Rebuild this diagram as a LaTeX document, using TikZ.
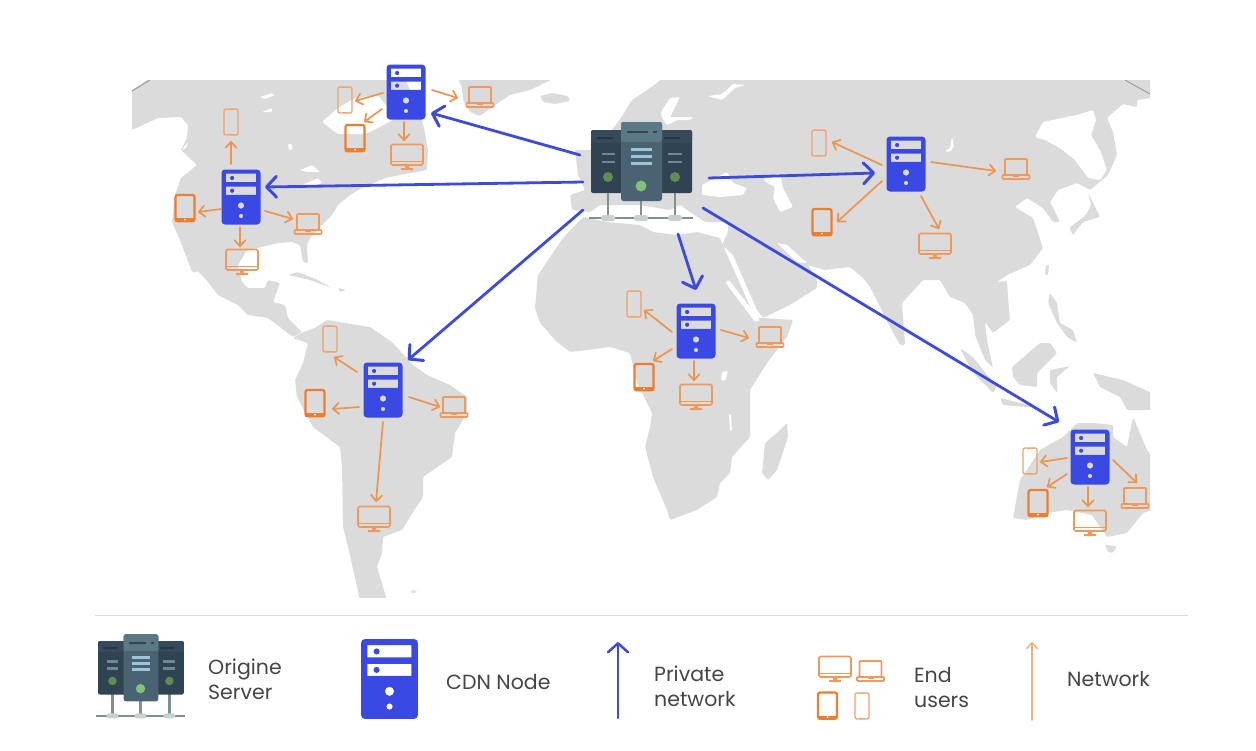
\documentclass[tikz,border=0pt]{standalone}
\usepackage{fontspec}
\setmainfont{Poppins}
\usetikzlibrary{arrows.meta}
\definecolor{land}{HTML}{DBDBDB}
\definecolor{cdnblue}{HTML}{3A49E3}
\definecolor{linkblue}{HTML}{3C4AE0}
\definecolor{netorange}{HTML}{EE9350}
\definecolor{netlight}{HTML}{F4AE7C}
\definecolor{devorange}{HTML}{EF9A5C}
\definecolor{tabletorange}{HTML}{EC7E2E}
\definecolor{phoneorange}{HTML}{F0A26C}
\definecolor{sidebox}{HTML}{2F4352}
\definecolor{sidehead}{HTML}{364A5B}
\definecolor{midbox}{HTML}{4A6373}
\definecolor{midhead}{HTML}{5B7885}
\definecolor{ledside}{HTML}{5F8C55}
\definecolor{ledmid}{HTML}{80C078}
\definecolor{barmid}{HTML}{9CC5DC}
\definecolor{barside}{HTML}{6D8895}
\definecolor{legcol}{HTML}{7F9090}
\definecolor{blobcol}{HTML}{C8D0D3}
\definecolor{textcol}{HTML}{454545}
\tikzset{
  anchorpt/.style={inner sep=0pt,minimum size=0pt},
  privlink/.style={linkblue,line width=2.8pt,line cap=round,-{Straight Barb[length=10pt,width=21pt,line width=3pt,round]}},
  netlink/.style={netorange,line width=1.7pt,line cap=round,-{Straight Barb[length=6pt,width=11pt,line width=1.7pt,round]}},
  legtext/.style={anchor=west,align=left,inner sep=0pt,text=textcol,font=\fontsize{20.5}{25}\selectfont},
  pics/cdn/.style={code={
    \fill[cdnblue,even odd rule,rounded corners=3.5pt]
      (-19.5,-27.5) rectangle (19.5,27.5)
      [sharp corners] (-15.2,-23.3) rectangle (15,-15)
      (-15.2,-10.5) rectangle (15,-2.2)
      (0,8.5) circle (3.2) (0,19) circle (2.2);
    \fill[cdnblue] (-8.9,-19) circle (2.1) (-8.9,-6.3) circle (2.1);
  }},
  pics/origin/.style={code={
    \draw[legcol,line width=2.4pt] (-33,20) -- (-33,48) (0,28) -- (0,48) (34,20) -- (34,48);
    \draw[legcol,line width=2.2pt] (-52,48) -- (52,48);
    \fill[blobcol,rounded corners=2.5pt] (-40,45) rectangle (-26,51) (-7,45) rectangle (7,51) (27,45) rectangle (41,51);
    \fill[sidebox,rounded corners=2pt] (-50,-40) rectangle (-15,23) (15,-40) rectangle (51,23);
    \fill[sidehead,rounded corners=2pt] (-50,-40) rectangle (-15,-27) (15,-40) rectangle (51,-27);
    \draw[barside,line width=2.6pt] (-39,-16) -- (-26,-16) (-39,-8) -- (-26,-8) (27,-16) -- (41,-16) (27,-8) -- (41,-8);
    \draw[sidebox!80!black,line width=1.6pt] (-44,-32) -- (-28,-32) (23,-32) -- (39,-32);
    \fill[ledside] (-33,7) circle (5) (34,7) circle (5);
    \fill[midbox,rounded corners=2.5pt] (-20,-48) rectangle (21,31);
    \fill[midhead,rounded corners=2.5pt] (-20,-48) rectangle (21,-28);
    \draw[midbox!70!black,line width=1.6pt] (-14,-38) -- (7,-38) (12,-38) -- (16,-38);
    \draw[barmid,line width=3pt] (-10,-21) -- (11,-21) (-10,-14) -- (11,-14) (-10,-7) -- (11,-7);
    \fill[ledmid] (0,16) circle (5.5);
  }},
  pics/phone/.style={code={
    \draw[phoneorange,line width=1.3pt,rounded corners=2pt] (-7,-13) rectangle (7,13);
    \draw[phoneorange,line width=1.1pt] (-3.5,-12.5) -- (3.5,-12.5) (-3,12.3) -- (3,12.3);
  }},
  pics/tablet/.style={code={
    \draw[tabletorange,line width=2.2pt,rounded corners=2pt] (-9.5,-13) rectangle (9.5,13.3);
    \fill[tabletorange] (-9.5,10) rectangle (9.5,13.3);
    \fill[white] (0,11.6) circle (1);
  }},
  pics/monitor/.style={code={
    \draw[devorange,line width=1.6pt,rounded corners=1.5pt] (-16,-12.5) rectangle (16,8);
    \draw[devorange,line width=1.2pt] (-16,4.5) -- (16,4.5);
    \fill[devorange] (-2,8) rectangle (2,11) (-6,11) rectangle (6,13);
  }},
  pics/laptop/.style={code={
    \draw[devorange,line width=1.8pt,rounded corners=1pt] (-11,-10) rectangle (11,6);
    \draw[devorange,line width=1.7pt,rounded corners=.8pt] (-13.5,6) rectangle (13.5,10);
    \fill[devorange] (-3,6) rectangle (3,8);
  }}
}
\newcommand\placedev[4]{\node[anchorpt] (#2) at (#3,#4) {}; \pic at (#2) {#1};}
\newcommand\netconn[5]{\draw[#1] ([shift={(#3)}]#2.center) -- ([shift={(#5)}]#4.center);}
\begin{document}
\begin{tikzpicture}[x=1pt,y=-1pt]
\useasboundingbox (0,0) rectangle (1256,750);
% ---------- map ----------
\begin{scope}
\clip (132,80) rectangle (1150,597);
\begin{scope}[rounded corners=1.2pt]
% North and Central America
\fill[land] (132,130) -- (132,90) -- (150,78) -- (405,78) -- (420,115) -- (424,128) -- (428,150) -- (427,170) -- (400,175) -- (385,178) -- (362,188) -- (350,195) -- (338,205) -- (332,215) -- (322,225) -- (310,238) -- (307,245) -- (308,263) -- (303,262) -- (300,245) -- (292,242) -- (278,243) -- (258,248) -- (247,250) -- (238,265) -- (242,282) -- (248,288) -- (265,288) -- (268,280) -- (280,283) -- (273,302) -- (285,305) -- (288,318) -- (302,332) -- (293,337) -- (280,327) -- (268,318) -- (248,315) -- (238,305) -- (218,295) -- (208,282) -- (197,270) -- (188,238) -- (198,272) -- (192,272) -- (180,240) -- (172,222) -- (175,195) -- (181,178) -- (197,165) -- (181,150) -- (187,138) -- (188,125) -- (181,117) -- (158,118) -- cycle;
% South America
\fill[land] (293,338) -- (303,332) -- (315,328) -- (327,320) -- (370,327) -- (393,343) -- (413,365) -- (427,375) -- (450,385) -- (467,397) -- (467,413) -- (455,433) -- (452,457) -- (423,477) -- (423,497) -- (410,517) -- (402,530) -- (383,537) -- (382,553) -- (377,567) -- (387,600) -- (360,600) -- (348,547) -- (343,527) -- (342,467) -- (340,447) -- (313,427) -- (297,397) -- (295,380) -- (303,363) -- (308,343) -- cycle;
% Greenland, Iceland
\fill[land] (458,78) -- (555,78) -- (530,90) -- (510,95) -- (495,105) -- (480,116) -- (470,112) -- (463,100) -- (462,88) -- cycle;
\fill[land] (540,96) -- (552,93) -- (568,96) -- (570,101) -- (555,104) -- (543,102) -- cycle;
% Eurasia
\fill[land] (623,115) -- (632,100) -- (650,88) -- (663,78) -- (1152,78) -- (1152,98) -- (1137,100) -- (1137,107) -- (1123,104) -- (1107,118) -- (1113,132) -- (1117,155) -- (1108,175) -- (1090,190) -- (1077,183) -- (1058,190) -- (1050,202) -- (1060,222) -- (1053,222) -- (1043,208) -- (1027,198) -- (1015,207) -- (1033,218) -- (1043,248) -- (1030,265) -- (1007,275) -- (997,282) -- (1007,281) -- (1008,297) -- (1010,320) -- (993,333) -- (985,322) -- (987,340) -- (993,368) -- (985,360) -- (975,335) -- (973,315) -- (965,303) -- (950,297) -- (940,280) -- (923,280) -- (902,303) -- (905,343) -- (900,345) -- (888,323) -- (870,287) -- (863,278) -- (850,267) -- (825,270) -- (808,265) -- (817,280) -- (817,288) -- (790,305) -- (763,318) -- (757,310) -- (733,255) -- (722,245) -- (728,232) -- (728,222) -- (705,222) -- (690,212) -- (680,205) -- (670,210) -- (640,205) -- (600,205) -- (590,212) -- (572,210) -- (570,195) -- (585,190) -- (578,175) -- (575,150) -- (590,150) -- (612,130) -- cycle;
% Africa
\fill[land] (538,275) -- (563,238) -- (583,217) -- (607,222) -- (640,225) -- (653,232) -- (677,235) -- (697,232) -- (720,238) -- (725,250) -- (755,318) -- (763,318) -- (793,320) -- (787,337) -- (767,363) -- (750,390) -- (750,437) -- (732,457) -- (730,473) -- (720,483) -- (717,497) -- (697,510) -- (670,520) -- (667,510) -- (653,477) -- (645,447) -- (650,427) -- (652,413) -- (637,383) -- (630,353) -- (610,347) -- (587,350) -- (570,352) -- (557,342) -- (540,323) -- (535,308) -- cycle;
% Madagascar
\fill[land] (787,423) -- (788,437) -- (777,470) -- (768,480) -- (762,473) -- (765,443) -- (777,433) -- cycle;
% Japan, Taiwan, Sri Lanka
\fill[land] (1088,193) -- (1100,217) -- (1083,222) -- (1073,235) -- (1069,228) -- (1086,215) -- (1091,205) -- cycle;
\fill[land] (1046,265) -- (1049,265) -- (1048,275) -- (1045,275) -- cycle;
\fill[land] (900,335) -- (906,343) -- (902,346) -- (899,342) -- cycle;
% Sumatra, Java, Borneo, Sulawesi, Philippines, New Guinea
\fill[land] (960,348) -- (973,357) -- (997,387) -- (993,393) -- (973,373) -- cycle;
\fill[land] (1000,398) -- (1040,408) -- (1003,405) -- cycle;
\fill[land] (1012,367) -- (1040,343) -- (1050,343) -- (1057,353) -- (1037,373) -- (1037,387) -- (1020,385) -- (1013,377) -- cycle;
\fill[land] (1050,370) -- (1070,366) -- (1057,377) -- (1057,393) -- (1050,383) -- cycle;
\fill[land] (1050,293) -- (1057,303) -- (1060,323) -- (1073,330) -- (1077,343) -- (1067,337) -- (1057,323) -- (1048,303) -- cycle;
\fill[land] (1093,373) -- (1123,380) -- (1152,393) -- (1152,410) -- (1127,410) -- (1120,397) -- (1100,387) -- cycle;
% Australia and Tasmania
\fill[land] (1013,518) -- (1020,480) -- (1040,450) -- (1063,437) -- (1077,423) -- (1093,423) -- (1113,425) -- (1113,437) -- (1127,447) -- (1133,417) -- (1147,450) -- (1152,457) -- (1152,510) -- (1143,513) -- (1127,533) -- (1107,537) -- (1092,515) -- (1067,510) -- (1047,513) -- (1027,520) -- cycle;
\fill[land] (1105,545) -- (1117,546) -- (1113,553) -- (1108,552) -- cycle;
% Falklands
\fill[land!70!white] (410,590) -- (417,590) -- (416,593) -- (411,593) -- cycle;
% inner waters
\fill[white] (322,122) -- (338,108) -- (355,98) -- (378,95) -- (388,108) -- (396,118) -- (378,128) -- (365,134) -- (338,134) -- cycle;
\fill[white] (661,112) -- (670,98) -- (680,97) -- (677,103) -- (670,117) -- (693,117) -- (690,120) -- (677,120) -- (667,125) -- (662,118) -- cycle;
\fill[white] (702,185) -- (727,172) -- (733,183) -- (747,188) -- (743,195) -- (720,197) -- (702,195) -- cycle;
\fill[white] (763,180) -- (780,173) -- (783,188) -- (793,207) -- (780,212) -- (773,198) -- (775,187) -- cycle;
\fill[white] (777,243) -- (787,245) -- (807,263) -- (797,262) -- cycle;
\fill[white] (1035,137) -- (1043,122) -- (1077,115) -- (1093,110) -- (1096,120) -- (1091,135) -- (1100,150) -- (1107,170) -- (1100,180) -- (1088,178) -- (1075,160) -- (1060,148) -- (1045,140) -- cycle;
\fill[white] (945,151) -- (950,148) -- (952,137) -- (954,146) -- (950,152) -- cycle;
\fill[white] (708,96) -- (722,100) -- (735,88) -- (745,85) -- (733,84) -- (722,94) -- cycle;
\fill[white] (725,282) -- (729,280) -- (760,320) -- (755,322) -- cycle;
% lakes
\fill[white] (260,97) -- (272,93) -- (275,95) -- (265,99) -- cycle;
\fill[white] (262,112) -- (272,108) -- (272,112) -- cycle;
\fill[white] (288,144) -- (292,144) -- (292,150) -- (289,150) -- cycle;
\fill[white] (300,170) -- (312,165) -- (320,172) -- (308,172) -- cycle;
\fill[white] (302,185) -- (318,178) -- (322,183) -- (306,188) -- cycle;
\fill[white] (182,150) -- (188,142) -- (186,148) -- cycle;
\fill[white] (722,372) -- (728,371) -- (725,381) -- (721,380) -- cycle;
\fill[white] (729,414) -- (731,414) -- (732,431) -- (730,431) -- cycle;
% Caribbean islands
\fill[land] (288,275) -- (298,272) -- (318,280) -- (332,288) -- (310,280) -- cycle;
\fill[land] (338,288) -- (346,290) -- (340,292) -- cycle;
\end{scope}
\draw[gray!80,line width=.9pt] (132,91) -- (150,80);
\draw[gray!80,line width=.9pt] (1125,80) -- (1150,94);
\end{scope}
% ---------- servers ----------
\node[anchorpt] (O) at (641,170) {}; \pic at (O) {origin};
\node[anchorpt] (N) at (406,92) {}; \pic at (N) {cdn};
\node[anchorpt] (W) at (241,197) {}; \pic at (W) {cdn};
\node[anchorpt] (E) at (906,164) {}; \pic at (E) {cdn};
\node[anchorpt] (M) at (696,331) {}; \pic at (M) {cdn};
\node[anchorpt] (S) at (383,390) {}; \pic at (S) {cdn};
\node[anchorpt] (A) at (1090,457) {}; \pic at (A) {cdn};
% ---------- devices ----------
\placedev{phone}{nPh}{345}{100}\placedev{tablet}{nTa}{355}{138}\placedev{monitor}{nMo}{407}{157}\placedev{laptop}{nLa}{480}{97}
\placedev{phone}{wPh}{231}{122}\placedev{tablet}{wTa}{185}{208}\placedev{monitor}{wMo}{242}{262}\placedev{laptop}{wLa}{308}{224}
\placedev{phone}{ePh}{819}{143}\placedev{tablet}{eTa}{822}{222}\placedev{monitor}{eMo}{935}{246}\placedev{laptop}{eLa}{1016}{169}
\placedev{phone}{mPh}{634}{304}\placedev{tablet}{mTa}{644}{377}\placedev{monitor}{mMo}{696}{397}\placedev{laptop}{mLa}{770}{337}
\placedev{phone}{sPh}{330}{339}\placedev{tablet}{sTa}{315}{403}\placedev{monitor}{sMo}{374}{519}\placedev{laptop}{sLa}{454}{407}
\placedev{phone}{aPh}{1030}{461}\placedev{tablet}{aTa}{1038}{503}\placedev{monitor}{aMo}{1090}{523}\placedev{laptop}{aLa}{1135}{498}
% ---------- private links ----------
\netconn{privlink}{O}{-61,-15}{N}{25,21}
\netconn{privlink}{O}{-58,12}{W}{24,-10}
\netconn{privlink}{O}{68,8}{E}{-31,9}
\netconn{privlink}{O}{37,64}{M}{0,-41}
\netconn{privlink}{O}{-58,40}{S}{25,-30}
\netconn{privlink}{O}{62,38}{A}{-31,-35}
% ---------- network links ----------
\netconn{netlink}{N}{-23,1}{nPh}{10,1}
\netconn{netlink}{N}{-24,17}{nTa}{9,-16}
\netconn{netlink}{N}{-2,30}{nMo}{-3,-16}
\netconn{netlink}{N}{26,-2}{nLa}{-22,1}
\netconn{netlink}{W}{-10,-33}{wPh}{0,19}
\netconn{netlink}{W}{-20,12}{wTa}{13,4}
\netconn{netlink}{W}{-1,30}{wMo}{-2,-15}
\netconn{netlink}{W}{24,14}{wLa}{-15,-5}
\netconn{netlink}{E}{25,-2}{eLa}{-20,2}
\netconn{netlink}{E}{15,32}{eMo}{4,-17}
\netconn{netlink}{E}{-24,1}{ePh}{13,-1}
\netconn{netlink}{E}{-24,17}{eTa}{15,0}
\netconn{netlink}{M}{-24,1}{mPh}{10,6}
\netconn{netlink}{M}{-24,18}{mTa}{9,-16}
\netconn{netlink}{M}{-2,30}{mMo}{-2,-16}
\netconn{netlink}{M}{25,-1}{mLa}{-21,1}
\netconn{netlink}{S}{-26,-18}{sPh}{4,18}
\netconn{netlink}{S}{-24,17}{sTa}{17,6}
\netconn{netlink}{S}{26,7}{sLa}{-14,0}
\netconn{netlink}{S}{0,32}{sMo}{2,-17}
\netconn{netlink}{A}{-23,1}{aPh}{10,1}
\netconn{netlink}{A}{-23,17}{aTa}{9,-16}
\netconn{netlink}{A}{-2,30}{aMo}{-2,-16}
\netconn{netlink}{A}{23,3}{aLa}{2,-15}
% ---------- legend ----------
\coordinate (divL) at (95,615); \coordinate (divR) at (1188,615);
\draw[land,line width=1pt] (divL) -- (divR);
\node[anchorpt] (legO) at (140.5,675) {}; \pic[scale=.85] at (legO) {origin};
\node[legtext] (legOt) at (208,679) {Origine\\Server};
\node[anchorpt] (legC) at (389.5,679) {}; \pic[scale=1.45] at (legC) {cdn};
\node[legtext] (legCt) at (446,682) {CDN Node};
\coordinate (legPa) at (618,718); \coordinate (legPb) at (618,642);
\draw[privlink,line width=2.5pt,-{Straight Barb[length=9pt,width=20pt,line width=2.5pt,round]}] (legPa) -- (legPb);
\node[legtext] (legPt) at (654,686) {Private\\network};
\placedev{monitor}{legMo}{835}{669}\placedev{laptop}{legLa}{870.5}{671}\placedev{tablet}{legTa}{827.5}{705.5}\placedev{phone}{legPh}{862}{706}
\node[legtext] (legEt) at (914,687) {End\\users};
\coordinate (legNa) at (1032,720); \coordinate (legNb) at (1032,642);
\draw[netlight,line width=1.6pt,line cap=round,-{Straight Barb[length=6pt,width=11pt,line width=1.4pt,round]}] (legNa) -- (legNb);
\node[legtext] (legNt) at (1067,679) {Network};
\end{tikzpicture}
\end{document}
